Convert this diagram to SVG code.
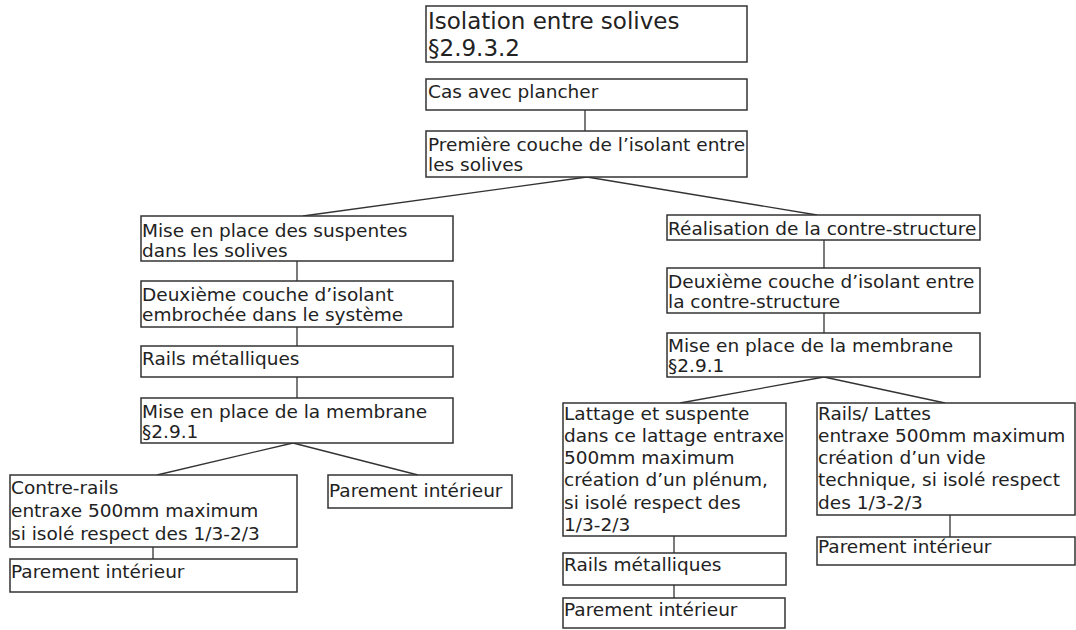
<svg xmlns="http://www.w3.org/2000/svg" width="1076" height="630" viewBox="0 0 1076 630">
<style>
.b{fill:#fff;stroke:#333;stroke-width:1.5}
.t{font-family:"DejaVu Sans",Verdana,sans-serif;font-size:18.5px;fill:#222}
.big{font-size:23px}
.c line{stroke:#333;stroke-width:1.3}
</style>
<rect width="1076" height="630" fill="#fff"/>
<g class="c">
<line x1="585" y1="110" x2="585" y2="131"/>
<line x1="587" y1="177" x2="303" y2="216"/>
<line x1="587" y1="177" x2="817" y2="215"/>
<line x1="297" y1="261" x2="297" y2="281"/>
<line x1="297" y1="327" x2="297" y2="346"/>
<line x1="297" y1="377" x2="297" y2="398"/>
<line x1="293" y1="443" x2="157" y2="475"/>
<line x1="293" y1="443" x2="418" y2="475"/>
<line x1="153" y1="547" x2="153" y2="559"/>
<line x1="824" y1="240" x2="824" y2="268"/>
<line x1="824" y1="313" x2="824" y2="333"/>
<line x1="824" y1="377" x2="680" y2="403"/>
<line x1="824" y1="377" x2="945" y2="403"/>
<line x1="674" y1="536" x2="674" y2="553"/>
<line x1="674" y1="585" x2="674" y2="598"/>
<line x1="950" y1="515" x2="950" y2="537"/>
</g>
<g id="n1"><rect class="b" x="426" y="6" width="321" height="56"/><text class="t big" x="428" y="29">Isolation entre solives</text><text class="t big" x="428" y="56">§2.9.3.2</text></g>
<g id="n2"><rect class="b" x="426" y="79" width="321" height="31"/><text class="t" x="428" y="98">Cas avec plancher</text></g>
<g id="n3"><rect class="b" x="426" y="131" width="321" height="46"/><text class="t" x="428" y="151">Première couche de l’isolant entre</text><text class="t" x="428" y="171">les solives</text></g>
<g id="n4"><rect class="b" x="141" y="216" width="312" height="45"/><text class="t" x="142" y="237">Mise en place des suspentes</text><text class="t" x="142" y="257">dans les solives</text></g>
<g id="n5"><rect class="b" x="141" y="281" width="312" height="46"/><text class="t" x="142" y="301">Deuxième couche d’isolant</text><text class="t" x="142" y="321">embrochée dans le système</text></g>
<g id="n6"><rect class="b" x="141" y="346" width="312" height="31"/><text class="t" x="142" y="365">Rails métalliques</text></g>
<g id="n7"><rect class="b" x="141" y="398" width="312" height="45"/><text class="t" x="142" y="418">Mise en place de la membrane</text><text class="t" x="142" y="438">§2.9.1</text></g>
<g id="n8"><rect class="b" x="10" y="475" width="287" height="72"/><text class="t" x="11" y="494">Contre-rails</text><text class="t" x="11" y="517">entraxe 500mm maximum</text><text class="t" x="11" y="540">si isolé respect des 1/3-2/3</text></g>
<g id="n9"><rect class="b" x="10" y="559" width="287" height="33"/><text class="t" x="11" y="578">Parement intérieur</text></g>
<g id="n10"><rect class="b" x="328" y="475" width="184" height="33"/><text class="t" x="329" y="497">Parement intérieur</text></g>
<g id="n11"><rect class="b" x="667" y="215" width="313" height="25"/><text class="t" x="668" y="235">Réalisation de la contre-structure</text></g>
<g id="n12"><rect class="b" x="667" y="268" width="313" height="45"/><text class="t" x="668" y="288">Deuxième couche d’isolant entre</text><text class="t" x="668" y="308">la contre-structure</text></g>
<g id="n13"><rect class="b" x="667" y="333" width="313" height="44"/><text class="t" x="668" y="352">Mise en place de la membrane</text><text class="t" x="668" y="372">§2.9.1</text></g>
<g id="n14"><rect class="b" x="563" y="403" width="223" height="133"/><text class="t" x="564" y="420">Lattage et suspente</text><text class="t" x="564" y="442">dans ce lattage entraxe</text><text class="t" x="564" y="464">500mm maximum</text><text class="t" x="564" y="486">création d’un plénum,</text><text class="t" x="564" y="509">si isolé respect des</text><text class="t" x="564" y="531">1/3-2/3</text></g>
<g id="n15"><rect class="b" x="563" y="553" width="223" height="32"/><text class="t" x="564" y="571">Rails métalliques</text></g>
<g id="n16"><rect class="b" x="563" y="598" width="222" height="30"/><text class="t" x="564" y="616">Parement intérieur</text></g>
<g id="n17"><rect class="b" x="817" y="403" width="258" height="112"/><text class="t" x="818" y="420">Rails/ Lattes</text><text class="t" x="818" y="442">entraxe 500mm maximum</text><text class="t" x="818" y="464">création d’un vide</text><text class="t" x="818" y="486">technique, si isolé respect</text><text class="t" x="818" y="509">des 1/3-2/3</text></g>
<g id="n18"><rect class="b" x="817" y="537" width="258" height="28"/><text class="t" x="818" y="553">Parement intérieur</text></g>
</svg>
